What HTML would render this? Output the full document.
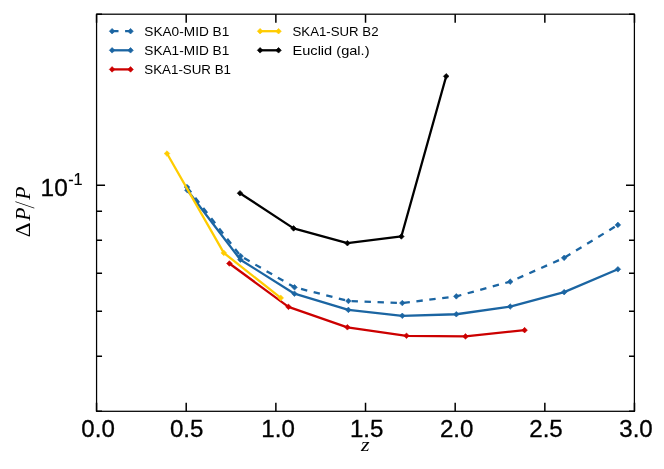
<!DOCTYPE html>
<html><head><meta charset="utf-8"><title>plot</title>
<style>html,body{margin:0;padding:0;background:#fff}body{width:664px;height:469px;overflow:hidden}</style>
</head><body>
<svg width="664" height="469" viewBox="0 0 664 469" style="display:block;will-change:transform">
<rect width="664" height="469" fill="#fff"/>
<path d="M187.00 187.10L240.60 256.10L294.55 287.30L348.40 301.00L402.30 303.05L456.30 296.35L510.20 281.65L564.15 257.85L617.90 224.90" fill="none" stroke="#1b65a2" stroke-width="2.3" stroke-linejoin="round" stroke-linecap="butt" stroke-dasharray="6.4 6.6" stroke-dashoffset="-0.4"/>
<path d="M187.00 184.30L189.80 187.10L187.00 189.90L184.20 187.10Z" fill="#1b65a2" stroke="#1b65a2" stroke-width="0.6" stroke-linejoin="miter"/>
<path d="M240.60 253.30L243.40 256.10L240.60 258.90L237.80 256.10Z" fill="#1b65a2" stroke="#1b65a2" stroke-width="0.6" stroke-linejoin="miter"/>
<path d="M294.55 284.50L297.35 287.30L294.55 290.10L291.75 287.30Z" fill="#1b65a2" stroke="#1b65a2" stroke-width="0.6" stroke-linejoin="miter"/>
<path d="M348.40 298.20L351.20 301.00L348.40 303.80L345.60 301.00Z" fill="#1b65a2" stroke="#1b65a2" stroke-width="0.6" stroke-linejoin="miter"/>
<path d="M402.30 300.25L405.10 303.05L402.30 305.85L399.50 303.05Z" fill="#1b65a2" stroke="#1b65a2" stroke-width="0.6" stroke-linejoin="miter"/>
<path d="M456.30 293.55L459.10 296.35L456.30 299.15L453.50 296.35Z" fill="#1b65a2" stroke="#1b65a2" stroke-width="0.6" stroke-linejoin="miter"/>
<path d="M510.20 278.85L513.00 281.65L510.20 284.45L507.40 281.65Z" fill="#1b65a2" stroke="#1b65a2" stroke-width="0.6" stroke-linejoin="miter"/>
<path d="M564.15 255.05L566.95 257.85L564.15 260.65L561.35 257.85Z" fill="#1b65a2" stroke="#1b65a2" stroke-width="0.6" stroke-linejoin="miter"/>
<path d="M617.90 222.10L620.70 224.90L617.90 227.70L615.10 224.90Z" fill="#1b65a2" stroke="#1b65a2" stroke-width="0.6" stroke-linejoin="miter"/>
<path d="M187.40 190.30L240.40 259.70L294.45 293.70L348.40 309.90L402.30 315.80L456.30 314.25L510.20 306.55L564.15 292.15L617.90 269.30" fill="none" stroke="#1b65a2" stroke-width="2.3" stroke-linejoin="round" stroke-linecap="butt"/>
<path d="M187.40 187.50L190.20 190.30L187.40 193.10L184.60 190.30Z" fill="#1b65a2" stroke="#1b65a2" stroke-width="0.6" stroke-linejoin="miter"/>
<path d="M240.40 256.90L243.20 259.70L240.40 262.50L237.60 259.70Z" fill="#1b65a2" stroke="#1b65a2" stroke-width="0.6" stroke-linejoin="miter"/>
<path d="M294.45 290.90L297.25 293.70L294.45 296.50L291.65 293.70Z" fill="#1b65a2" stroke="#1b65a2" stroke-width="0.6" stroke-linejoin="miter"/>
<path d="M348.40 307.10L351.20 309.90L348.40 312.70L345.60 309.90Z" fill="#1b65a2" stroke="#1b65a2" stroke-width="0.6" stroke-linejoin="miter"/>
<path d="M402.30 313.00L405.10 315.80L402.30 318.60L399.50 315.80Z" fill="#1b65a2" stroke="#1b65a2" stroke-width="0.6" stroke-linejoin="miter"/>
<path d="M456.30 311.45L459.10 314.25L456.30 317.05L453.50 314.25Z" fill="#1b65a2" stroke="#1b65a2" stroke-width="0.6" stroke-linejoin="miter"/>
<path d="M510.20 303.75L513.00 306.55L510.20 309.35L507.40 306.55Z" fill="#1b65a2" stroke="#1b65a2" stroke-width="0.6" stroke-linejoin="miter"/>
<path d="M564.15 289.35L566.95 292.15L564.15 294.95L561.35 292.15Z" fill="#1b65a2" stroke="#1b65a2" stroke-width="0.6" stroke-linejoin="miter"/>
<path d="M617.90 266.50L620.70 269.30L617.90 272.10L615.10 269.30Z" fill="#1b65a2" stroke="#1b65a2" stroke-width="0.6" stroke-linejoin="miter"/>
<path d="M229.40 263.50L288.45 306.85L347.40 327.30L406.50 335.80L465.50 336.40L524.60 330.15" fill="none" stroke="#cc0000" stroke-width="2.3" stroke-linejoin="round" stroke-linecap="butt"/>
<path d="M229.40 260.70L232.20 263.50L229.40 266.30L226.60 263.50Z" fill="#cc0000" stroke="#cc0000" stroke-width="0.6" stroke-linejoin="miter"/>
<path d="M288.45 304.05L291.25 306.85L288.45 309.65L285.65 306.85Z" fill="#cc0000" stroke="#cc0000" stroke-width="0.6" stroke-linejoin="miter"/>
<path d="M347.40 324.50L350.20 327.30L347.40 330.10L344.60 327.30Z" fill="#cc0000" stroke="#cc0000" stroke-width="0.6" stroke-linejoin="miter"/>
<path d="M406.50 333.00L409.30 335.80L406.50 338.60L403.70 335.80Z" fill="#cc0000" stroke="#cc0000" stroke-width="0.6" stroke-linejoin="miter"/>
<path d="M465.50 333.60L468.30 336.40L465.50 339.20L462.70 336.40Z" fill="#cc0000" stroke="#cc0000" stroke-width="0.6" stroke-linejoin="miter"/>
<path d="M524.60 327.35L527.40 330.15L524.60 332.95L521.80 330.15Z" fill="#cc0000" stroke="#cc0000" stroke-width="0.6" stroke-linejoin="miter"/>
<path d="M167.00 153.55L223.80 252.90L280.75 297.90" fill="none" stroke="#ffcc00" stroke-width="2.3" stroke-linejoin="round" stroke-linecap="butt"/>
<path d="M167.00 150.75L169.80 153.55L167.00 156.35L164.20 153.55Z" fill="#ffcc00" stroke="#ffcc00" stroke-width="0.6" stroke-linejoin="miter"/>
<path d="M223.80 250.10L226.60 252.90L223.80 255.70L221.00 252.90Z" fill="#ffcc00" stroke="#ffcc00" stroke-width="0.6" stroke-linejoin="miter"/>
<path d="M280.75 295.10L283.55 297.90L280.75 300.70L277.95 297.90Z" fill="#ffcc00" stroke="#ffcc00" stroke-width="0.6" stroke-linejoin="miter"/>
<path d="M240.00 193.25L293.60 228.40L347.40 243.20L401.35 236.45L446.20 76.30" fill="none" stroke="#000000" stroke-width="2.3" stroke-linejoin="round" stroke-linecap="butt"/>
<path d="M240.00 190.45L242.80 193.25L240.00 196.05L237.20 193.25Z" fill="#000000" stroke="#000000" stroke-width="0.6" stroke-linejoin="miter"/>
<path d="M293.60 225.60L296.40 228.40L293.60 231.20L290.80 228.40Z" fill="#000000" stroke="#000000" stroke-width="0.6" stroke-linejoin="miter"/>
<path d="M347.40 240.40L350.20 243.20L347.40 246.00L344.60 243.20Z" fill="#000000" stroke="#000000" stroke-width="0.6" stroke-linejoin="miter"/>
<path d="M401.35 233.65L404.15 236.45L401.35 239.25L398.55 236.45Z" fill="#000000" stroke="#000000" stroke-width="0.6" stroke-linejoin="miter"/>
<path d="M446.20 73.50L449.00 76.30L446.20 79.10L443.40 76.30Z" fill="#000000" stroke="#000000" stroke-width="0.6" stroke-linejoin="miter"/>
<path d="M96.55 411.3V402.80M96.55 14.15V22.65M186.21 411.3V402.80M186.21 14.15V22.65M275.87 411.3V402.80M275.87 14.15V22.65M365.53 411.3V402.80M365.53 14.15V22.65M455.18 411.3V402.80M455.18 14.15V22.65M544.84 411.3V402.80M544.84 14.15V22.65M634.50 411.3V402.80M634.50 14.15V22.65M96.55 411.30H102.05M634.5 411.30H629.00M96.55 356.24H102.05M634.5 356.24H629.00M96.55 311.25H102.05M634.5 311.25H629.00M96.55 273.21H102.05M634.5 273.21H629.00M96.55 240.26H102.05M634.5 240.26H629.00M96.55 211.19H102.05M634.5 211.19H629.00M96.55 185.19H105.05M634.5 185.19H626.00M96.55 14.15H102.05M634.5 14.15H629.00" stroke="#000" stroke-width="1.5" fill="none"/>
<rect x="96.57" y="14.2" width="537.83" height="397.10" fill="none" stroke="#000" stroke-width="1.25"/>
<path d="M112.1 31.2H130.55" stroke="#1b65a2" stroke-width="2.3" fill="none" stroke-dasharray="6.4 6.6"/><path d="M112.10 28.40L114.90 31.20L112.10 34.00L109.30 31.20Z" fill="#1b65a2" stroke="#1b65a2" stroke-width="0.6" stroke-linejoin="miter"/><path d="M130.55 28.40L133.35 31.20L130.55 34.00L127.75 31.20Z" fill="#1b65a2" stroke="#1b65a2" stroke-width="0.6" stroke-linejoin="miter"/>
<path d="M112.1 50.3H130.55" stroke="#1b65a2" stroke-width="2.3" fill="none"/><path d="M112.10 47.50L114.90 50.30L112.10 53.10L109.30 50.30Z" fill="#1b65a2" stroke="#1b65a2" stroke-width="0.6" stroke-linejoin="miter"/><path d="M130.55 47.50L133.35 50.30L130.55 53.10L127.75 50.30Z" fill="#1b65a2" stroke="#1b65a2" stroke-width="0.6" stroke-linejoin="miter"/>
<path d="M112.1 69.4H130.55" stroke="#cc0000" stroke-width="2.3" fill="none"/><path d="M112.10 66.60L114.90 69.40L112.10 72.20L109.30 69.40Z" fill="#cc0000" stroke="#cc0000" stroke-width="0.6" stroke-linejoin="miter"/><path d="M130.55 66.60L133.35 69.40L130.55 72.20L127.75 69.40Z" fill="#cc0000" stroke="#cc0000" stroke-width="0.6" stroke-linejoin="miter"/>
<path d="M260.1 31.2H278.55" stroke="#ffcc00" stroke-width="2.3" fill="none"/><path d="M260.10 28.40L262.90 31.20L260.10 34.00L257.30 31.20Z" fill="#ffcc00" stroke="#ffcc00" stroke-width="0.6" stroke-linejoin="miter"/><path d="M278.55 28.40L281.35 31.20L278.55 34.00L275.75 31.20Z" fill="#ffcc00" stroke="#ffcc00" stroke-width="0.6" stroke-linejoin="miter"/>
<path d="M260.1 50.3H278.55" stroke="#000000" stroke-width="2.3" fill="none"/><path d="M260.10 47.50L262.90 50.30L260.10 53.10L257.30 50.30Z" fill="#000000" stroke="#000000" stroke-width="0.6" stroke-linejoin="miter"/><path d="M278.55 47.50L281.35 50.30L278.55 53.10L275.75 50.30Z" fill="#000000" stroke="#000000" stroke-width="0.6" stroke-linejoin="miter"/>
<text x="144.3" y="36" font-size="12.4" font-family="Liberation Sans, sans-serif" text-anchor="start" textLength="85" lengthAdjust="spacingAndGlyphs">SKA0-MID B1</text>
<text x="144.3" y="55" font-size="12.4" font-family="Liberation Sans, sans-serif" text-anchor="start" textLength="85" lengthAdjust="spacingAndGlyphs">SKA1-MID B1</text>
<text x="144.3" y="74" font-size="12.4" font-family="Liberation Sans, sans-serif" text-anchor="start" textLength="86.7" lengthAdjust="spacingAndGlyphs">SKA1-SUR B1</text>
<text x="292.5" y="36" font-size="12.4" font-family="Liberation Sans, sans-serif" text-anchor="start" textLength="86" lengthAdjust="spacingAndGlyphs">SKA1-SUR B2</text>
<text x="292.5" y="55" font-size="12.4" font-family="Liberation Sans, sans-serif" text-anchor="start" textLength="77" lengthAdjust="spacingAndGlyphs">Euclid (gal.)</text>
<text x="98.05" y="437" font-size="23" font-family="Liberation Sans, sans-serif" text-anchor="middle" textLength="33.5" lengthAdjust="spacingAndGlyphs" stroke="#000" stroke-width="0.3">0.0</text>
<text x="186.71" y="437" font-size="23" font-family="Liberation Sans, sans-serif" text-anchor="middle" textLength="33.5" lengthAdjust="spacingAndGlyphs" stroke="#000" stroke-width="0.3">0.5</text>
<text x="278.07" y="437" font-size="23" font-family="Liberation Sans, sans-serif" text-anchor="middle" textLength="33.5" lengthAdjust="spacingAndGlyphs" stroke="#000" stroke-width="0.3">1.0</text>
<text x="366.68" y="437" font-size="23" font-family="Liberation Sans, sans-serif" text-anchor="middle" textLength="33.5" lengthAdjust="spacingAndGlyphs" stroke="#000" stroke-width="0.3">1.5</text>
<text x="456.68" y="437" font-size="23" font-family="Liberation Sans, sans-serif" text-anchor="middle" textLength="33.5" lengthAdjust="spacingAndGlyphs" stroke="#000" stroke-width="0.3">2.0</text>
<text x="545.99" y="437" font-size="23" font-family="Liberation Sans, sans-serif" text-anchor="middle" textLength="33.5" lengthAdjust="spacingAndGlyphs" stroke="#000" stroke-width="0.3">2.5</text>
<text x="636.00" y="437" font-size="23" font-family="Liberation Sans, sans-serif" text-anchor="middle" textLength="33.5" lengthAdjust="spacingAndGlyphs" stroke="#000" stroke-width="0.3">3.0</text>
<text x="40.6" y="195.9" font-size="23" font-family="Liberation Sans, sans-serif" text-anchor="start" textLength="27.2" lengthAdjust="spacingAndGlyphs" stroke="#000" stroke-width="0.3">10</text>
<text x="68.2" y="184.7" font-size="16.3" font-family="Liberation Sans, sans-serif" text-anchor="start" textLength="14.5" lengthAdjust="spacingAndGlyphs" stroke="#000" stroke-width="0.2">-1</text>
<text x="365.4" y="450.7" font-size="18" font-family="Liberation Serif, serif" font-style="italic" text-anchor="middle" textLength="8.6" lengthAdjust="spacingAndGlyphs">z</text>
<g transform="translate(29.75,236.8) rotate(-90)" font-size="20.2" font-family="Liberation Serif, serif"><text x="-0.5" y="0" textLength="14.8" lengthAdjust="spacingAndGlyphs">Δ</text><text x="16.0" y="0" font-style="italic" textLength="13.3" lengthAdjust="spacingAndGlyphs">P</text><text transform="translate(28.3,4.1) skewX(-8.7) scale(0.55,1)" x="0" y="0" font-size="28.3">/</text><text x="37.1" y="0" font-style="italic" textLength="13.3" lengthAdjust="spacingAndGlyphs">P</text></g>
</svg>
</body></html>
